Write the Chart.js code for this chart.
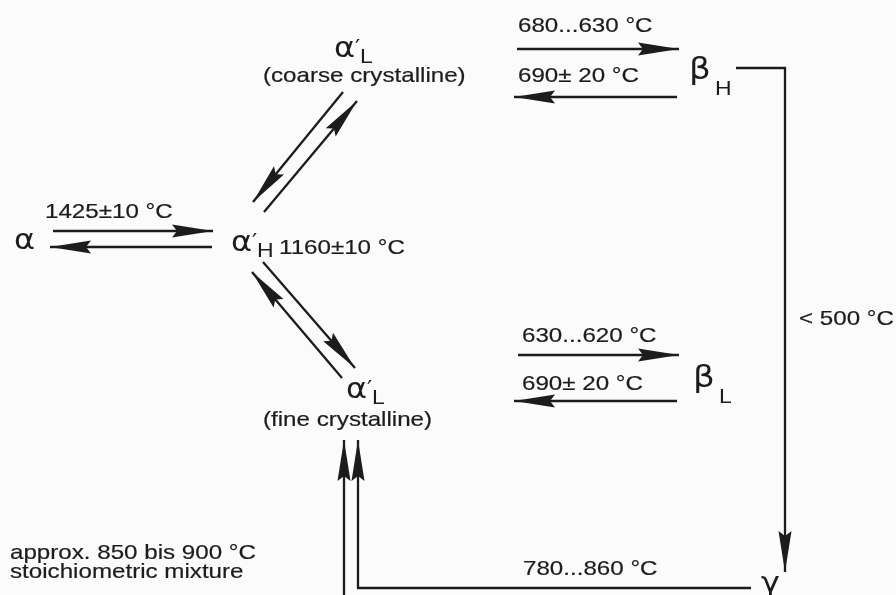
<!DOCTYPE html>
<html>
<head>
<meta charset="utf-8">
<script src="https://cdn.jsdelivr.net/npm/chart.js@4/dist/chart.umd.min.js"></script>
<style>
  html, body { margin: 0; padding: 0; background: #fbfbfb; }
  #wrap { width: 896px; height: 595px; }
</style>
</head>
<body>
<div id="wrap"><canvas id="c" width="896" height="595"></canvas></div>
<script>
// ---- Diagram data (diagram units: 0..896 across, 0..595 down) ----
// Phases (nodes) of the transformation scheme
const phaseSymbols = ['α', 'α', 'α', 'α', 'β', 'β', 'γ'];
const phasePrimes  = ['',  '′', '′', '′', '',  '',  ''];
const phaseSubs    = ['',  'H', 'L', 'L', 'H', 'L', ''];
const phaseX       = [14, 231, 334, 346, 689, 693, 761];
const phaseY       = [249, 251, 57, 398, 79, 387, 592];

// Transition labels (temperatures and notes)
const noteTexts = ['1425±10 °C', '1160±10 °C', '(coarse crystalline)', '(fine crystalline)',
                   '680...630 °C', '690± 20 °C', '630...620 °C', '690± 20 °C',
                   '< 500 °C', '780...860 °C', 'approx. 850 bis 900 °C', 'stoichiometric mixture'];
const noteX = [45, 279, 263, 263, 518, 518, 522, 522, 799, 523, 10, 10];
const noteY = [218, 254, 82, 426, 32, 82, 342, 390, 325, 575, 559, 578];

// Transition arrows: polyline x / y, arrowhead at the last point
const arrowX = [
  [53, 213], [212, 50],
  [343, 253], [264, 357],
  [263, 355], [342, 252],
  [517, 679], [677, 514],
  [518, 679], [677, 514],
  [736, 785, 785],
  [751, 358, 358],
  [344, 344]
];
const arrowY = [
  [231, 231], [247, 247],
  [92, 202], [212, 101],
  [262, 368], [378, 272],
  [49, 49], [97, 97],
  [355, 355], [401, 401],
  [68, 68, 572],
  [588, 588, 440],
  [610, 440]
];

const INK = '#1c1c1c';
const STRETCH = 1.15;

const datasets = arrowX.map((xs, i) => ({
  data: xs.map((x, j) => ({ x: x, y: arrowY[i][j] })),
  showLine: true,
  borderColor: INK,
  borderWidth: 2.3,
  pointRadius: 0,
  tension: 0,
  fill: false
}));

const arrowHeads = {
  id: 'arrowHeads',
  afterDatasetsDraw(chart) {
    const ctx = chart.ctx;
    chart.data.datasets.forEach((ds, i) => {
      const pts = chart.getDatasetMeta(i).data;
      const n = pts.length;
      const a = pts[n - 2], b = pts[n - 1];
      const ang = Math.atan2(b.y - a.y, b.x - a.x);
      const L = 41, W = 6.5;
      ctx.save();
      ctx.translate(b.x, b.y);
      ctx.rotate(ang);
      ctx.beginPath();
      ctx.moveTo(0, 0);
      ctx.lineTo(-L, -W);
      ctx.lineTo(-L + 5, 0);
      ctx.lineTo(-L, W);
      ctx.closePath();
      ctx.fillStyle = INK;
      ctx.fill();
      ctx.restore();
    });
  }
};

function drawText(ctx, text, px, py, font, stretch, weight) {
  ctx.save();
  ctx.translate(px, py);
  ctx.scale(stretch, 1);
  ctx.font = font;
  ctx.fillStyle = INK;
  ctx.textBaseline = 'alphabetic';
  ctx.textAlign = 'left';
  ctx.fillText(text, 0, 0);
  if (weight) {
    ctx.strokeStyle = INK;
    ctx.lineWidth = weight;
    ctx.strokeText(text, 0, 0);
  }
  ctx.restore();
}

const labels = {
  id: 'labels',
  afterDraw(chart) {
    const ctx = chart.ctx;
    const sx = chart.scales.x, sy = chart.scales.y;
    noteTexts.forEach((t, i) => {
      drawText(ctx, t, sx.getPixelForValue(noteX[i]), sy.getPixelForValue(noteY[i]),
               '21px "Liberation Sans", Arial, sans-serif', STRETCH, 0.2);
    });
    phaseSymbols.forEach((s, i) => {
      const px = sx.getPixelForValue(phaseX[i]);
      const py = sy.getPixelForValue(phaseY[i]);
      const isBeta = s === 'β';
      drawText(ctx, s, px, py, (isBeta ? '31px' : '29px') + ' "DejaVu Sans", sans-serif', 1.1, 0);
      if (phasePrimes[i]) {
        drawText(ctx, phasePrimes[i], px + 21, py - 1, '23px "DejaVu Sans", sans-serif', 1.0, 0);
      }
      if (phaseSubs[i]) {
        const off = isBeta ? 26 : (phasePrimes[i] ? 26 : 22);
        const dy = isBeta ? 16 : 6;
        drawText(ctx, phaseSubs[i], px + off, py + dy, '20px "Liberation Sans", Arial, sans-serif', STRETCH, 0);
      }
    });
  }
};

new Chart(document.getElementById('c'), {
  type: 'scatter',
  data: { datasets: datasets },
  options: {
    responsive: false,
    devicePixelRatio: 1,
    animation: false,
    layout: { padding: 0 },
    scales: {
      x: { type: 'linear', min: 0, max: 896, display: false },
      y: { type: 'linear', min: 0, max: 595, reverse: true, display: false }
    },
    plugins: { legend: { display: false }, tooltip: { enabled: false } }
  },
  plugins: [arrowHeads, labels]
});
</script>
</body>
</html>
